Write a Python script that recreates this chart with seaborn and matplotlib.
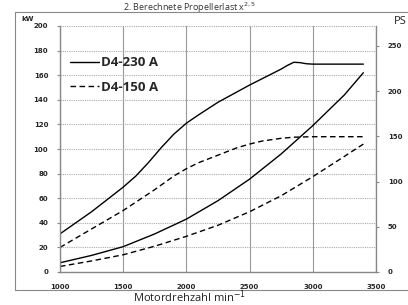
import matplotlib
matplotlib.use("Agg")
import matplotlib.pyplot as plt
import numpy as np
import pandas as pd
import seaborn as sns
from matplotlib.patches import Rectangle

# Motordrehzahl (min-1) und Leistung (kW)
rpm_230_full = [1000, 1250, 1500, 1600, 1700, 1800, 1900, 2000, 2100, 2250, 2500, 2750,
                2800, 2850, 2900, 2950, 3000, 3400]
kw_230_full = [31, 49, 69, 78, 89, 101, 112, 121, 128, 138, 152, 165,
               168, 170.5, 170.2, 169.3, 169, 169]

rpm_230_prop = [1000, 1250, 1500, 1750, 2000, 2250, 2500, 2750, 3000, 3250, 3400]
kw_230_prop = [7.5, 13.5, 20.6, 31, 43, 58, 75.5, 96, 119, 144, 162]

rpm_150_full = [1000, 1250, 1500, 1750, 1900, 2000, 2100, 2250, 2400, 2500, 2600, 2750,
                2850, 3000, 3400]
kw_150_full = [20, 35, 50, 67, 78, 84, 89, 95, 101, 104, 106.5, 108.7,
               109.6, 110, 110]

rpm_150_prop = [1000, 1250, 1500, 1750, 2000, 2250, 2500, 2750, 3000, 3250, 3400]
kw_150_prop = [4.5, 9, 14, 21, 29, 38, 49, 62, 77.5, 94, 104]

x_ticks = [1000, 1500, 2000, 2500, 3000, 3500]
kw_ticks = list(range(0, 201, 20))
ps_ticks = list(range(0, 251, 50))
KW_PER_PS = 0.7355

sns.set_theme(style="white")
plt.rcParams["font.family"] = ["DejaVu Sans"]

fig = plt.figure(figsize=(4.08, 3.05), dpi=100)
ax = fig.add_axes([60 / 408, 1 - 272 / 305, 316 / 408, 246 / 305])

dash = (4, 2.5)
sns.lineplot(x=rpm_230_full, y=kw_230_full, ax=ax, color="black", lw=1.0, label="D4-230 A")
sns.lineplot(x=rpm_230_prop, y=kw_230_prop, ax=ax, color="black", lw=1.0)
sns.lineplot(x=rpm_150_full, y=kw_150_full, ax=ax, color="black", lw=1.0, label="D4-150 A")
sns.lineplot(x=rpm_150_prop, y=kw_150_prop, ax=ax, color="black", lw=1.0)
ax.lines[2].set_dashes(dash)
ax.lines[3].set_dashes(dash)

ax.set_xlim(1000, 3500)
ax.set_ylim(0, 200)
ax.set_xticks(x_ticks)
ax.set_yticks(kw_ticks)
ax.tick_params(axis="both", labelsize=5, length=2.5, width=0.8, color="#888888", pad=6)
for lab in ax.get_xticklabels() + ax.get_yticklabels():
    lab.set_fontweight("bold")

ax.grid(axis="y", color="#aaaaaa", ls=(0, (1, 1)), lw=0.8)
ax.grid(axis="x", color="#999999", ls="-", lw=0.8)
ax.set_axisbelow(True)
for side in ["left", "right", "bottom"]:
    ax.spines[side].set_color("#888888")
    ax.spines[side].set_linewidth(1.0)
ax.spines["top"].set_visible(False)
ax.set_xlabel("")
ax.set_ylabel("")

leg = ax.legend(loc="upper left", bbox_to_anchor=(-0.005, 0.925), frameon=False,
                handlelength=2.2, handletextpad=0.1, labelspacing=0.85,
                prop={"weight": "bold", "size": 9.5, "family": "Open Sans"})
for h in leg.get_lines():
    h.set_linewidth(1.0)
leg.get_lines()[1].set_dashes(dash)

ax2 = ax.twinx()
ax2.set_ylim(0, 200 / KW_PER_PS)
ax2.set_yticks(ps_ticks)
ax2.tick_params(axis="y", labelsize=5, length=2.5, width=0.8, color="#888888", pad=6)
for lab in ax2.get_yticklabels():
    lab.set_fontweight("bold")
ax2.grid(False)
for s in ax2.spines.values():
    s.set_visible(False)

fig.patches.append(Rectangle((15 / 408, 1 - 290 / 305), 400 / 408, 278 / 305,
                             transform=fig.transFigure, fill=False,
                             edgecolor="#888888", lw=0.8))

fig.text(28 / 408, 1 - 19 / 305, "kW", fontsize=5, fontweight="bold", ha="center", va="center")
fig.text(400 / 408, 1 - 22 / 305, "PS", fontsize=8, ha="center", va="center",
         family="Open Sans", color="#222222")
fig.text(190 / 408, 1 - 0.5 / 305, "2. Berechnete Propellerlast x$^{2,5}$", fontsize=6.5,
         ha="center", va="top", family="Open Sans", color="#333333")
fig.text(190 / 408, 1 - 297 / 305, "Motordrehzahl min$^{-1}$", fontsize=8,
         ha="center", va="center", family="Open Sans", color="#222222")

fig.savefig("out.png", dpi=100)
